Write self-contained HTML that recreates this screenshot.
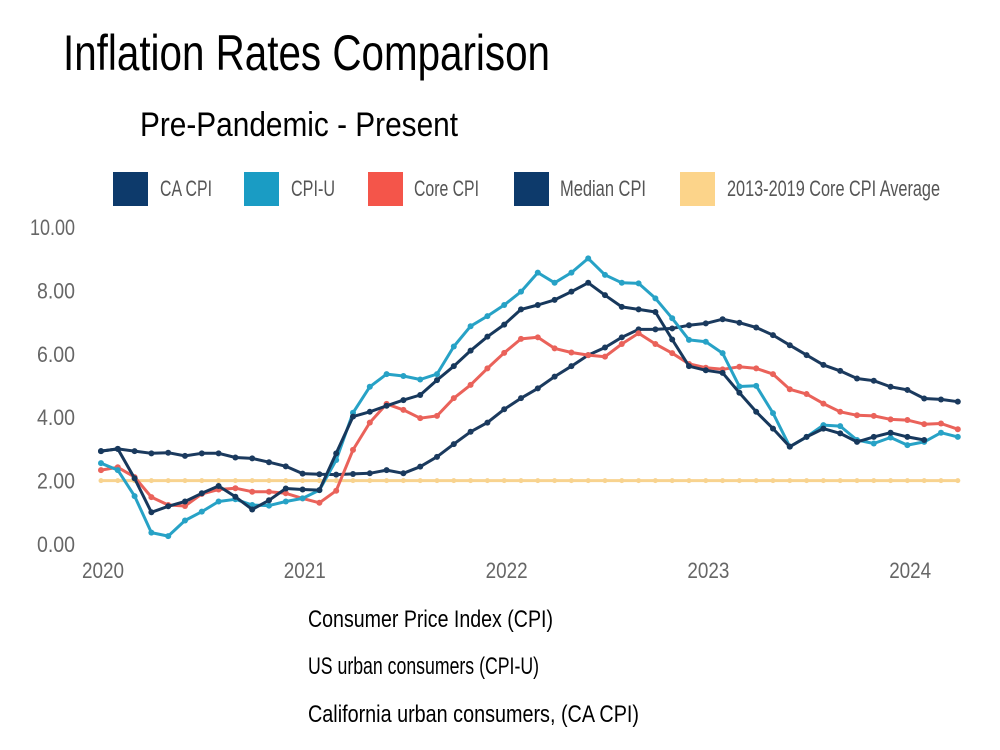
<!DOCTYPE html>
<html><head><meta charset="utf-8">
<style>
html,body{margin:0;padding:0;background:#fff;}
svg{display:block;font-family:"Liberation Sans Narrow","Liberation Sans",sans-serif;}
</style></head>
<body>
<svg id="chart" width="1000" height="750" viewBox="0 0 1000 750">
<text x="63" y="70" font-size="50" textLength="487" lengthAdjust="spacingAndGlyphs" fill="#000">Inflation Rates Comparison</text>
<text x="140" y="136" font-size="34" textLength="318" lengthAdjust="spacingAndGlyphs" fill="#000">Pre-Pandemic - Present</text>
<g>
<g><rect x="113" y="172" width="35" height="34" fill="#0d3a6b"/><text x="160" y="196" font-size="22" fill="#555" textLength="52" lengthAdjust="spacingAndGlyphs">CA CPI</text></g>
<g><rect x="244" y="172" width="35" height="34" fill="#1a9cc4"/><text x="291" y="196" font-size="22" fill="#555" textLength="44" lengthAdjust="spacingAndGlyphs">CPI-U</text></g>
<g><rect x="368" y="172" width="35" height="34" fill="#f4554a"/><text x="414" y="196" font-size="22" fill="#555" textLength="65" lengthAdjust="spacingAndGlyphs">Core CPI</text></g>
<g><rect x="514" y="172" width="35" height="34" fill="#0d3a6b"/><text x="560" y="196" font-size="22" fill="#555" textLength="86" lengthAdjust="spacingAndGlyphs">Median CPI</text></g>
<g><rect x="680" y="172" width="35" height="34" fill="#fcd48a"/><text x="727" y="196" font-size="22" fill="#555" textLength="213" lengthAdjust="spacingAndGlyphs">2013-2019 Core CPI Average</text></g>
</g>
<g id="yaxis"></g>
<g id="xaxis"></g>
<g id="series"></g>
<text x="308" y="627" font-size="24" fill="#000" textLength="245" lengthAdjust="spacingAndGlyphs">Consumer Price Index (CPI)</text>
<text x="308" y="674" font-size="24" fill="#000" textLength="231" lengthAdjust="spacingAndGlyphs">US urban consumers (CPI-U)</text>
<text x="308" y="722" font-size="24" fill="#000" textLength="331" lengthAdjust="spacingAndGlyphs">California urban consumers, (CA CPI)</text>
</svg>
<script>
const yTicks = [0, 2, 4, 6, 8, 10];
const yTickLabels = ["0.00", "2.00", "4.00", "6.00", "8.00", "10.00"];
const xTickYears = [2020, 2021, 2022, 2023, 2024];
const medianCpi = [2.93,3.0,2.93,2.86,2.88,2.78,2.86,2.86,2.73,2.70,2.58,2.45,2.22,2.20,2.19,2.21,2.23,2.33,2.23,2.44,2.75,3.15,3.54,3.83,4.25,4.6,4.91,5.28,5.61,5.96,6.2,6.52,6.77,6.77,6.80,6.9,6.96,7.09,6.98,6.83,6.59,6.27,5.96,5.65,5.46,5.22,5.15,4.96,4.86,4.59,4.56,4.49];
const cpiU = [2.55,2.33,1.51,0.36,0.25,0.74,1.02,1.34,1.41,1.23,1.21,1.34,1.44,1.7,2.65,4.14,4.96,5.36,5.30,5.19,5.36,6.23,6.87,7.19,7.54,7.96,8.56,8.24,8.56,9.01,8.49,8.24,8.22,7.75,7.12,6.44,6.38,6.02,4.97,4.99,4.13,3.07,3.38,3.75,3.72,3.28,3.17,3.36,3.12,3.22,3.51,3.38];
const caCpi = [2.93,3.0,2.07,1.0,1.19,1.34,1.6,1.83,1.49,1.09,1.38,1.75,1.72,1.7,2.86,4.02,4.17,4.36,4.54,4.7,5.17,5.61,6.1,6.54,6.92,7.4,7.54,7.7,7.96,8.24,7.85,7.48,7.4,7.32,6.45,5.61,5.48,5.40,4.77,4.17,3.64,3.07,3.38,3.64,3.49,3.22,3.38,3.51,3.38,3.28];
const coreCpi = [2.33,2.42,2.11,1.48,1.23,1.2,1.58,1.72,1.76,1.65,1.65,1.6,1.44,1.30,1.68,2.97,3.83,4.42,4.23,3.97,4.04,4.6,5.02,5.54,6.03,6.47,6.52,6.17,6.04,5.96,5.91,6.31,6.65,6.31,6.02,5.68,5.56,5.51,5.59,5.54,5.36,4.88,4.73,4.43,4.17,4.06,4.04,3.93,3.91,3.78,3.8,3.62];
const coreAverage = [2,2,2,2,2,2,2,2,2,2,2,2,2,2,2,2,2,2,2,2,2,2,2,2,2,2,2,2,2,2,2,2,2,2,2,2,2,2,2,2,2,2,2,2,2,2,2,2,2,2,2,2];

const NS = "http://www.w3.org/2000/svg";
const yScale = v => 544 - v * 31.7;
const xScale = i => 101 + i * 16.8;
const xYear = y => 103 + (y - 2020) * 201.8;
function mk(tag, attrs, parent) { const e = document.createElementNS(NS, tag); for (const k in attrs) e.setAttribute(k, attrs[k]); parent.appendChild(e); return e; }

const yg = document.getElementById('yaxis');
yTicks.forEach((t, i) => {
  const lbl = yTickLabels[i];
  const el = mk('text', {x: 75, y: yScale(t) + 8, 'font-size': 22, fill: '#666', 'text-anchor': 'end', textLength: lbl.length > 4 ? 45 : 38, lengthAdjust: 'spacingAndGlyphs'}, yg);
  el.textContent = lbl;
  
  
});
const xg = document.getElementById('xaxis');
xTickYears.forEach(y => {
  const el = mk('text', {x: xYear(y) - 21, y: 578, 'font-size': 22, fill: '#666', textLength: 42, lengthAdjust: 'spacingAndGlyphs'}, xg);
  el.textContent = String(y);
  
  
});

const sg = document.getElementById('series');
function drawSeries(vals, color, name, r) {
  const g = mk('g', {}, sg);
  
  
  const pts = vals.map((v, i) => xScale(i).toFixed(1) + ',' + yScale(v).toFixed(1)).join(' ');
  const pl = mk('polyline', {points: pts, fill: 'none', stroke: color, 'stroke-width': 3, 'stroke-linejoin': 'round'}, g);
  
  
  vals.forEach((v, i) => {
    const c = mk('circle', {cx: xScale(i), cy: yScale(v), r: r, fill: color}, g);
    
    
  });
}
drawSeries(coreAverage, '#f8d38f', 'core-average-series', 2.5);
drawSeries(medianCpi, '#1b3a5e', 'median-cpi-series', 3);
drawSeries(coreCpi, '#ea625a', 'core-cpi-series', 3);
drawSeries(cpiU, '#27a2c6', 'cpi-u-series', 3);
drawSeries(caCpi, '#17385c', 'ca-cpi-series', 3);
</script>
</body></html>
